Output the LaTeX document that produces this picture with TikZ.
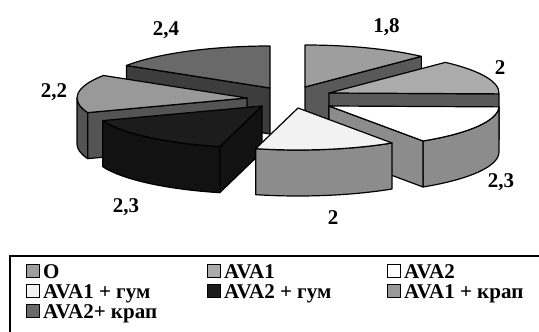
\documentclass[tikz,border=0pt]{standalone}
\usepackage{fontspec}
\setmainfont{Liberation Serif}

\definecolor{cO}{gray}{0.62}
\definecolor{cAa}{gray}{0.67}
\definecolor{cAb}{gray}{1}
\definecolor{cAag}{gray}{0.95}
\definecolor{cAbg}{gray}{0.11}
\definecolor{cAak}{gray}{0.6}
\definecolor{cAbk}{gray}{0.41}
\definecolor{sO}{gray}{0.35}
\definecolor{sAa}{gray}{0.35}
\definecolor{sAb}{gray}{0.55}
\definecolor{sAag}{gray}{0.55}
\definecolor{sAbg}{gray}{0.07}
\definecolor{sAak}{gray}{0.33}
\definecolor{sAbk}{gray}{0.24}

\def\piex{170}
\def\piey{42}
\def\pieh{46}
% top face: apex, from angle, to angle, colour
\newcommand{\pietop}[4]{\filldraw[piepart,fill=#4] (#1) -- ++(#2:\piex pt and \piey pt)
  arc[start angle=#2,end angle=#3,x radius=\piex pt,y radius=\piey pt] -- cycle;}
% cut face along one radius: apex, angle, colour
\newcommand{\pieside}[3]{\filldraw[piepart,fill=#3] (#1) -- ++(#2:\piex pt and \piey pt)
  -- ++(0,-\pieh) -- ++(#2+180:\piex pt and \piey pt) -- cycle;}
% curved outer face: apex, from angle, to angle, colour
\newcommand{\pierim}[4]{\filldraw[piepart,fill=#4] (#1) ++(#2:\piex pt and \piey pt)
  arc[start angle=#2,end angle=#3,x radius=\piex pt,y radius=\piey pt] -- ++(0,-\pieh)
  arc[start angle=#3,end angle=#2,x radius=\piex pt,y radius=\piey pt] -- cycle;}

\begin{document}
\begin{tikzpicture}
  [x=1pt,y=1pt,
   piepart/.style={draw=black,line width=1.2pt,line join=round},
   val/.style={font=\fontsize{21}{24}\selectfont\bfseries,anchor=base,inner sep=0pt},
   legkey/.style={draw=black,line width=1pt,minimum size=13pt,inner sep=0pt},
   legtext/.style={font=\fontsize{21}{23}\selectfont\bfseries,anchor=base west,inner sep=0pt}]
  \useasboundingbox (0,0) rectangle (539,332);
  \coordinate (P_1) at (305,245); % O
  \coordinate (P_2) at (329,239); % AVA1
  \coordinate (P_3) at (329,226); % AVA2
  \coordinate (P_4) at (298,224); % AVA1 + gum
  \coordinate (P_5) at (262,226); % AVA2 + gum
  \coordinate (P_6) at (247,234); % AVA1 + krap
  \coordinate (P_7) at (270,244); % AVA2 + krap

  % back slices first
  \pieside{P_1}{46.8}{sO}
  \pietop{P_1}{46.8}{90}{cO}
  \pieside{P_7}{147.6}{sAbk}
  \pietop{P_7}{90}{147.6}{cAbk}
  \pieside{P_2}{-1.2}{sAa}
  \pietop{P_2}{-1.2}{46.8}{cAa}
  \pierim{P_6}{180}{200.4}{sAak}
  \pieside{P_6}{200.4}{sAak}
  \pietop{P_6}{147.6}{200.4}{cAak}
  \pierim{P_3}{-56.4}{-1.2}{sAb}
  \pieside{P_3}{-56.4}{sAb}
  \pietop{P_3}{-56.4}{-1.2}{cAb}
  \pierim{P_5}{-159.6}{-104.4}{sAbg}
  \pieside{P_5}{-104.4}{sAbg}
  \pietop{P_5}{-159.6}{-104.4}{cAbg}
  \pierim{P_4}{-104.4}{-56.4}{sAag}
  \pietop{P_4}{-104.4}{-56.4}{cAag}

  % values
  \node[val] (V_1) at (386.5,299) {1,8};
  \node[val] (V_2) at (500,257) {2};
  \node[val] (V_3) at (501,144) {2,3};
  \node[val] (V_4) at (333,107) {2};
  \node[val] (V_5) at (126,119) {2,3};
  \node[val] (V_6) at (54,234) {2,2};
  \node[val] (V_7) at (166,296) {2,4};

  % legend
  \draw[line width=2pt] (539,75.5) -| (9.5,0);
  \foreach \n/\col/\x/\y/\txt in {1/cO/32.5/60.5/O,2/cAa/213.5/60.5/AVA1,3/cAb/393.5/60.5/AVA2,
      4/cAag/32.5/40.5/AVA1 + гум,5/cAbg/213.5/40.5/AVA2 + гум,6/cAak/393.5/40.5/AVA1 + крап,
      7/cAbk/32.5/20.5/AVA2+ крап}
  {
    \node[legkey,fill=\col] (K_\n) at (\x,\y) {};
    \node[legtext] (T_\n) at ([xshift=3.5pt]K_\n.south east) {\txt};
  }
\end{tikzpicture}
\end{document}
